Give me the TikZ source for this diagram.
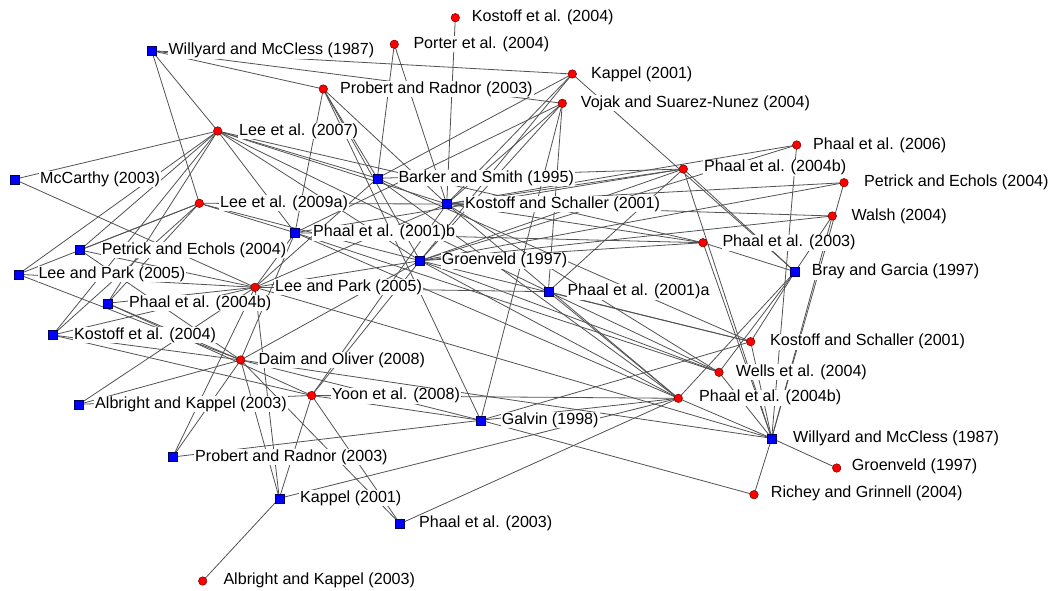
\documentclass[tikz,border=0pt]{standalone}
\usepackage{fontspec}
\setmainfont{Liberation Sans}
\pgfdeclarelayer{bg}
\pgfsetlayers{bg,main}
\begin{document}
\begin{tikzpicture}[x=1pt,y=-1pt,
  rdot/.style={circle,inner sep=0pt,minimum size=8.5pt,fill=red,draw=red!45!black,line width=0.5pt},
  bsq/.style={rectangle,inner sep=0pt,minimum size=9pt,fill=blue,draw=blue!35!black,line width=0.5pt},
  lab/.style={anchor=west,fill=white,inner xsep=1pt,inner ysep=0.5pt,font=\fontsize{16.1}{18}\selectfont},
  edge/.style={draw=black!68,line width=0.8pt}]
\useasboundingbox (0,0) rectangle (1049,591);

% citing papers (red)
\node[rdot] (kosT) at (455.3,17.7) {};
\node[rdot] (por)  at (394.3,44.3) {};
\node[rdot] (kapR) at (572.3,74) {};
\node[rdot] (proR) at (323.3,89) {};
\node[rdot] (voj)  at (562.3,103.3) {};
\node[rdot] (lee07) at (217.7,131) {};
\node[rdot] (p06)  at (796.7,145) {};
\node[rdot] (p04T) at (683.3,169) {};
\node[rdot] (petR) at (844,182.7) {};
\node[rdot] (lee09) at (199.3,203.3) {};
\node[rdot] (wal)  at (832.3,216) {};
\node[rdot] (p03R) at (703,242.7) {};
\node[rdot] (lpR)  at (255,287.3) {};
\node[rdot] (ksR)  at (750.7,341.7) {};
\node[rdot] (daim) at (240.7,360) {};
\node[rdot] (wel)  at (719,372.3) {};
\node[rdot] (yoon) at (311.7,395.5) {};
\node[rdot] (p04L) at (678.3,398.3) {};
\node[rdot] (groR) at (836.7,468) {};
\node[rdot] (ric)  at (754,494.7) {};
\node[rdot] (albR) at (202.7,581) {};

% cited papers (blue)
\node[bsq] (wmT)  at (151.7,50.7) {};
\node[bsq] (mcc)  at (14.3,179.3) {};
\node[bsq] (bar)  at (377.3,178.3) {};
\node[bsq] (ksB)  at (446.7,204) {};
\node[bsq] (p01b) at (295,232.7) {};
\node[bsq] (petB) at (80,250) {};
\node[bsq] (groB) at (420,260.7) {};
\node[bsq] (lpB)  at (18.3,274.3) {};
\node[bsq] (bray) at (795,271.7) {};
\node[bsq] (p01a) at (548.3,291.7) {};
\node[bsq] (p04B) at (107.3,303.3) {};
\node[bsq] (kos04) at (52.7,335) {};
\node[bsq] (albB) at (79,404.3) {};
\node[bsq] (gal)  at (480.7,420.3) {};
\node[bsq] (wmR)  at (771.7,438.3) {};
\node[bsq] (proB) at (172.7,457) {};
\node[bsq] (kapB) at (279.3,498.3) {};
\node[bsq] (p03B) at (400,523.7) {};

% citation links
\begin{pgfonlayer}{bg}
\foreach \a/\b in {
  wmT/proR, wmT/kapR, wmT/voj, wmT/lee07, wmT/lee09,
  kosT/ksB, por/bar, por/ksB,
  kapR/bar, kapR/ksB, kapR/groB, kapR/bray,
  proR/bar, proR/ksB, proR/p01b, proR/groB, proR/gal,
  voj/ksB, voj/groB, voj/p01a, voj/gal, voj/p01b,
  lee07/mcc, lee07/bar, lee07/ksB, lee07/p01b, lee07/groB, lee07/petB,
  lee07/lpB, lee07/p04B, lee07/kos04, lee07/p01a, lee07/p03R,
  lee09/ksB, lee09/petB, lee09/lpB, lee09/p01b, lee09/p04B, lee09/kos04, lee09/groB,
  lpR/mcc, lpR/petB, lpR/lpB, lpR/p04B, lpR/p01b, lpR/groB, lpR/ksB, lpR/bar,
  lpR/p01a, lpR/wmR, lpR/kapB, lpR/proB, lpR/albB, lpR/kos04,
  daim/kos04, daim/lpB, daim/p04B, daim/petB, daim/p01b, daim/groB,
  daim/kapB, daim/proB, daim/p03B, daim/gal, daim/wmR, daim/albB,
  yoon/kos04, yoon/p04B, yoon/groB, yoon/gal, yoon/kapB, yoon/p03B,
  yoon/albB, yoon/p04L, yoon/ksB,
  p06/groB, p06/ksB, p06/wmR,
  p04T/bar, p04T/ksB, p04T/p01b, p04T/groB, p04T/p01a, p04T/wmR, p04T/bray,
  petR/ksB, petR/groB, petR/wmR,
  wal/ksB, wal/groB, wal/wmR, wal/bray,
  p03R/p01b, p03R/groB, p03R/ksB, p03R/bray, p03R/wmR,
  ksR/bar, ksR/groB, ksR/p01a, ksR/bray, ksR/wmR, ksR/gal,
  wel/ksB, wel/groB, wel/bray, wel/wmR, wel/p01a, wel/p01b,
  p04L/ksB, p04L/groB, p04L/p01a, p04L/bar, p04L/kapB, p04L/p03B,
  p04L/wmR, p04L/bray, p04L/gal, p04L/p01b,
  groR/wmR, ric/wmR, ric/gal, albR/kapB, proB/gal}
  \draw[edge] (\a.center) -- (\b.center);
\end{pgfonlayer}

% labels
\node[lab] (kosT-l) at (470.7,17.7) {Kostoff et al. (2004)};
\node[lab] (por-l)  at (412.3,44.3) {Porter et al. (2004)};
\node[lab] (kapR-l) at (590,74) {Kappel (2001)};
\node[lab] (proR-l) at (339,89) {Probert and Radnor (2003)};
\node[lab] (voj-l)  at (579.7,103.3) {Vojak and Suarez-Nunez (2004)};
\node[lab] (lee07-l) at (238,131) {Lee et al. (2007)};
\node[lab] (p06-l)  at (812,145) {Phaal et al. (2006)};
\node[lab] (p04T-l) at (703,167.5) {Phaal et al. (2004b)};
\node[lab] (petR-l) at (863,182.7) {Petrick and Echols (2004)};
\node[lab] (lee09-l) at (219,203.3) {Lee et al. (2009a)};
\node[lab] (wal-l)  at (850.3,216) {Walsh (2004)};
\node[lab] (p03R-l) at (721.3,242.7) {Phaal et al. (2003)};
\node[lab] (lpR-l)  at (274,287.3) {Lee and Park (2005)};
\node[lab] (ksR-l)  at (769,341.7) {Kostoff and Schaller (2001)};
\node[lab] (daim-l) at (257.3,360) {Daim and Oliver (2008)};
\node[lab] (wel-l)  at (734.7,372.3) {Wells et al. (2004)};
\node[lab] (yoon-l) at (330.7,395.5) {Yoon et al. (2008)};
\node[lab] (p04L-l) at (698,397.7) {Phaal et al. (2004b)};
\node[lab] (groR-l) at (850.7,466) {Groenveld (1997)};
\node[lab] (ric-l)  at (769.7,493.7) {Richey and Grinnell (2004)};
\node[lab] (albR-l) at (222.3,580) {Albright and Kappel (2003)};
\node[lab] (wmT-l)  at (167.3,50.7) {Willyard and McCless (1987)};
\node[lab] (mcc-l)  at (39,179.3) {McCarthy (2003)};
\node[lab] (bar-l)  at (397.3,178.3) {Barker and Smith (1995)};
\node[lab] (ksB-l)  at (464,204) {Kostoff and Schaller (2001)};
\node[lab] (p01b-l) at (312,232.7) {Phaal et al. (2001)b};
\node[lab] (petB-l) at (100.7,250) {Petrick and Echols (2004)};
\node[lab] (groB-l) at (440.7,260.7) {Groenveld (1997)};
\node[lab] (lpB-l)  at (37.3,274.3) {Lee and Park (2005)};
\node[lab] (bray-l) at (810.7,271.7) {Bray and Garcia (1997)};
\node[lab] (p01a-l) at (566.3,291.7) {Phaal et al. (2001)a};
\node[lab] (p04B-l) at (128,303.3) {Phaal et al. (2004b)};
\node[lab] (kos04-l) at (73,335) {Kostoff et al. (2004)};
\node[lab] (albB-l) at (94,404.3) {Albright and Kappel (2003)};
\node[lab] (gal-l)  at (500.7,420.3) {Galvin (1998)};
\node[lab] (wmR-l)  at (792,438.3) {Willyard and McCless (1987)};
\node[lab] (proB-l) at (194,457) {Probert and Radnor (2003)};
\node[lab] (kapB-l) at (299,498.3) {Kappel (2001)};
\node[lab] (p03B-l) at (418,523.7) {Phaal et al. (2003)};
\end{tikzpicture}
\end{document}
